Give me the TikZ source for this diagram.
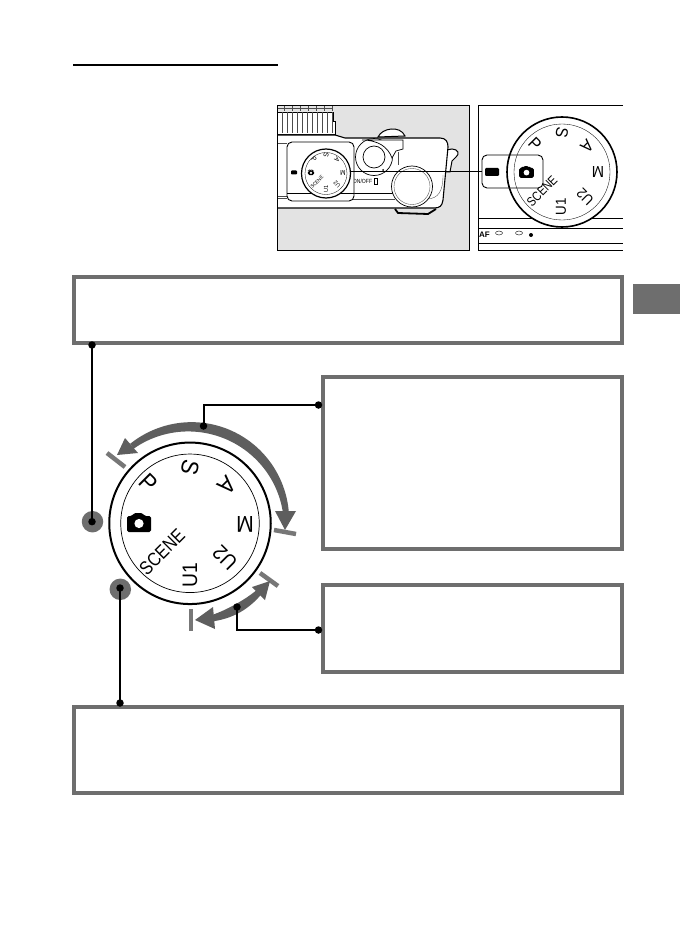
\documentclass[tikz,border=0pt]{standalone}
\usepackage{fontspec}
\setmainfont{Liberation Sans}
\definecolor{boxgray}{HTML}{6E6E6E}
\definecolor{arcgray}{HTML}{5E5E5E}
\definecolor{tickgray}{HTML}{777777}
\definecolor{photogray}{HTML}{E3E3E3}
\tikzset{
  infobox/.style={draw=boxgray,line width=4pt,fill=white},
  leader/.style={draw=black,line width=2pt},
  leaderdot/.style={circle,fill=black,inner sep=0pt,minimum size=7.5pt},
  spot/.style={circle,fill=boxgray,inner sep=0pt,minimum size=21.5pt},
  tickmark/.style={draw=tickgray,line width=4.5pt},
  photoline/.style={draw=black,line width=.7pt},
  photofine/.style={draw=black!70,line width=.35pt},
}
\newcommand{\dialtxt}[6]{\node[inner sep=0pt,rotate=#4] (#1) at (#2,#3) {\scalebox{.92}[1]{\fontsize{#5}{#5}\selectfont #6}};}
\newcommand{\camicon}[3]{%
  \begin{scope}[shift={(#1,#2)},scale=#3]
    \fill[black,rounded corners=1.6pt] (-12,-6.5) -- (-7,-6.5) -- (-5,-9.5) -- (3.5,-9.5) -- (5.5,-6.5) -- (12,-6.5) -- (12,9.5) -- (-12,9.5) -- cycle;
    \fill[white] (0,1) circle (4.6);
  \end{scope}}
\begin{document}
\begin{tikzpicture}[x=1pt,y=-1pt]
\useasboundingbox (0,0) rectangle (680,936);
\fill[white] (0,0) rectangle (680,936);
% heading rule and side tab
\draw[line width=1.1pt] (73,65) -- (278,65);
\fill[boxgray] (633,284) rectangle (680,314);

% ---------- left photo ----------
\fill[photogray] (277.5,105.5) rectangle (469,250);
\begin{scope}
\clip (277.5,105.5) rectangle (469,250);
% knurled top dial
\draw[photoline,fill=white] (270,112) -- (333,112) -- (333,121) -- (335,121) -- (335,134) -- (270,134) -- cycle;
\foreach \xx in {282,287,...,332} {\draw[photofine] (\xx,112) -- (\xx,133);}
\draw[photofine] (270,108) -- (333,108);
\foreach \xx in {284,292,...,332} {\draw[photofine] (\xx,106) -- (\xx,111);}
% hump, strap lug
\draw[line width=1pt,fill=white] (378,137) .. controls (382,128) and (400,125) .. (405,136) -- cycle;
\draw[line width=1pt,fill=white] (446,150) -- (452,149) .. controls (458,149) and (460,154) .. (456,157) -- (452,161) -- (450,172) -- (445,172) -- cycle;
% body
\draw[line width=1.1pt,fill=white] (270,135) -- (335,135) -- (345,138) -- (440,138) .. controls (446,138) and (448,142) .. (448,147) -- (443,200) .. controls (442,206) and (440,208) .. (434,208) -- (270,208) -- cycle;
\draw[line width=1.8pt] (395,209) -- (398,213) -- (428,214) -- (436,209);
\draw[photofine] (270,143) -- (287,143);
\draw[photoline] (353,193) -- (400,193);
\draw[photofine] (270,196) -- (287,196) (270,198) -- (287,198) (353,199) -- (395,199);
\draw[photofine] (443,175) .. controls (443,192) and (438,198) .. (428,199);
% shutter ring and lever
\draw[photoline,fill=white] (374,157) circle (18.5);
\draw[photoline] (374,157) circle (11);
\draw[photoline,fill=white] (362,140) -- (403,140) -- (403,149) -- (396,151) -- (392,158) .. controls (388,147) and (378,140) .. (362,140) -- cycle;
\draw[photofine] (398,152) -- (398,165);
\fill (383,170) circle (1);
% big button
\draw[photoline,fill=white] (412,186.5) circle (20.5);
\draw[photofine] (412,186.5) circle (18);
% ON/OFF
\node[inner sep=0pt] (onoff) at (362.5,181) {\scalebox{.85}[1]{\fontsize{6}{6}\selectfont ON/OFF}};
\draw[line width=.7pt] (374.5,178) rectangle (377.5,184.5);
% mode dial plate
\draw[line width=.9pt,fill=white,rounded corners=5pt] (287,142) rectangle (354,201);
\draw[photoline] (287,193) -- (354,193);
\fill[black,rounded corners=.8pt] (291,170.5) rectangle (297,174.5);
\draw[line width=1.2pt,fill=white] (326,173.5) circle (24.5);
\draw[line width=.3pt] (326,173.5) circle (21);
\camicon{311}{172.5}{.27}
\dialtxt{pP}{314}{159}{-45}{7}{P}
\dialtxt{pS}{326}{155.5}{-100}{7}{S}
\dialtxt{pA}{337}{160}{-135}{7}{A}
\dialtxt{pM}{343}{172.5}{180}{7}{M}
\dialtxt{pUb}{337}{184}{135}{6}{U2}
\dialtxt{pUa}{326}{189}{90}{6}{U1}
\dialtxt{pSC}{317}{182}{45}{5}{SCENE}
\end{scope}
\draw[line width=.8pt] (277.5,105.5) rectangle (469,250);

% ---------- right photo ----------
\begin{scope}
\clip (478,105.5) rectangle (623,250);
\draw[photoline] (478,218) -- (623,218);
\draw[photoline] (478,228) -- (623,228);
\draw[photoline] (478,243) -- (623,243);
\draw[line width=1.6pt,fill=white] (562,172) circle (55);
\draw[line width=.35pt] (562,172) circle (48);
\dialtxt{qP}{535}{144}{-45}{17}{P}
\dialtxt{qS}{562}{133}{-100}{17}{S}
\dialtxt{qA}{587}{146}{-135}{17}{A}
\dialtxt{qM}{598}{172}{180}{16}{M}
\dialtxt{qUb}{585}{197}{135}{14.5}{U2}
\dialtxt{qUa}{561}{207}{90}{14.5}{U1}
\dialtxt{qSC}{542}{191}{45}{13}{\scalebox{.9}[1]{SCENE}}
\node[inner sep=0pt] (qAF) at (484.5,234.5) {\fontsize{8}{8}\selectfont\bfseries AF};
\draw[line width=.4pt] (499,233) ellipse (3.5 and 2);
\draw[line width=.4pt] (519,233) ellipse (3.5 and 2);
\fill (531,235) circle (2);
\end{scope}
\draw[line width=.8pt] (623,105.5) -- (478,105.5) -- (478,250) -- (623,250);
\draw[line width=.9pt,fill=white,rounded corners=5pt] (482,155) rectangle (543,188);
\begin{scope}
\clip[rounded corners=5pt] (482,155) rectangle (543,188);
\draw[line width=1.6pt] (562,172) circle (55);
\draw[line width=.35pt] (562,172) circle (48);
\end{scope}
\fill[black,rounded corners=1.2pt] (485,168) rectangle (499,176);
\camicon{526.5}{172}{.62}
\coordinate (mini) at (351,171.5);
\coordinate (minib) at (482,171.5);
\draw[line width=1pt] (mini) -- (minib);

% ---------- info boxes ----------
\node[infobox,minimum width=548pt,minimum height=66pt,inner sep=0pt,anchor=north west] (topbox) at (72,275) {};
\node[infobox,minimum width=299pt,minimum height=172pt,inner sep=0pt,anchor=north west] (rbox) at (321,375) {};
\node[infobox,minimum width=299pt,minimum height=87pt,inner sep=0pt,anchor=north west] (mbox) at (321,583) {};
\node[infobox,minimum width=548pt,minimum height=86pt,inner sep=0pt,anchor=north west] (botbox) at (72,705) {};

% ---------- big dial ----------
\node[circle,draw=black,line width=2pt,fill=white,inner sep=0pt,minimum size=161.5pt] (dial) at (190,523.3) {};
\node[circle,draw=black,line width=.7pt,inner sep=0pt,minimum size=138.5pt] (dialin) at (190,523.3) {};
\dialtxt{dP}{149}{482.5}{-45}{24}{P}
\dialtxt{dS}{190}{468}{-103}{24}{S}
\dialtxt{dA}{227}{485.5}{-135}{24}{A}
\dialtxt{dM}{245}{524}{180}{23}{M}
\dialtxt{dUb}{225}{558}{135}{21}{U2}
\dialtxt{dUa}{190}{575}{90}{21}{U1}
\dialtxt{dSC}{162}{552}{45}{19}{\scalebox{.92}[1]{SCENE}}
\camicon{139}{522.5}{1}

% ---------- tick marks ----------
\draw[tickmark] (107,453) -- (125,467);
\draw[tickmark] (274,530) -- (296,534);
\draw[tickmark] (260,573) -- (278,586);
\draw[tickmark] (191,609) -- (191,631);

% ---------- arcs ----------
\fill[arcgray] plot[domain=127:7,samples=50] ({190+(96.5+3+2*sin(1.5*(127-\x)))*cos(\x)},{523.3-(96.5+3+2*sin(1.5*(127-\x)))*sin(\x)})
  -- plot[domain=7:127,samples=50] ({190+(96.5-3-2*sin(1.5*(127-\x)))*cos(\x)},{523.3-(96.5-3-2*sin(1.5*(127-\x)))*sin(\x)}) -- cycle;
\fill[arcgray] (117,455) -- (125,438) -- (138,453) -- cycle;
\fill[arcgray] (285,530) -- (275,511) -- (296,511) -- cycle;
\fill[arcgray] plot[domain=-78:-44,samples=20] ({190+(97.5+3+1.6*sin(5.294*(\x+78)))*cos(\x)},{523.3-(97.5+3+1.6*sin(5.294*(\x+78)))*sin(\x)})
  -- plot[domain=-44:-78,samples=20] ({190+(97.5-3-1.6*sin(5.294*(\x+78)))*cos(\x)},{523.3-(97.5-3-1.6*sin(5.294*(\x+78)))*sin(\x)}) -- cycle;
\fill[arcgray] (195,620) -- (213,607) -- (215,629) -- cycle;
\fill[arcgray] (270,581) -- (252,587) -- (265,600) -- cycle;

% ---------- spots and leaders ----------
\node[spot] (spotA) at (92.5,521.7) {};
\node[spot] (spotB) at (120.3,589.3) {};
\node[leaderdot] (dotA) at (92,521.7) {};
\node[leaderdot] (dotB) at (120,588) {};
\node[leaderdot] (dotTop) at (92,345) {};
\node[leaderdot] (dotBot) at (120,703) {};
\node[leaderdot] (dotArc) at (203.5,426) {};
\node[leaderdot] (dotR) at (318.5,405) {};
\node[leaderdot] (dotSm) at (237,607) {};
\node[leaderdot] (dotM) at (318.5,630) {};
\draw[leader] (dotTop.center) -- (dotA.center);
\draw[leader] (dotB.center) -- (dotBot.center);
\draw[leader] (dotArc.center) |- (dotR.center);
\draw[leader] (dotSm.center) |- (dotM.center);
\end{tikzpicture}
\end{document}
